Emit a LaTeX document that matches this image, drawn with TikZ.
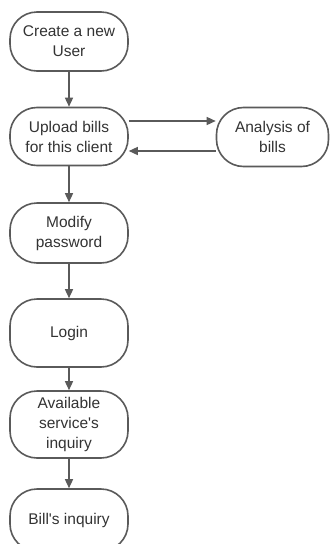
\documentclass[tikz,border=0pt]{standalone}
\usepackage{fontspec}
\setmainfont{Liberation Sans}
\usetikzlibrary{arrows.meta,positioning}
\definecolor{linegray}{HTML}{5A5A5A}
\definecolor{textgray}{HTML}{333333}
\begin{document}
\begin{tikzpicture}[x=1pt,y=-1pt,
  flowbox/.style={draw=linegray, line width=1.6pt, rounded corners=27pt,
    minimum width=118pt, inner sep=0pt, align=center, text=textgray,
    font=\fontsize{15.5}{20}\selectfont, fill=white},
  arr/.style={draw=linegray, line width=1.4pt, -{Triangle[length=9pt,width=8pt]}}]
\useasboundingbox[fill=white] (0,0) rectangle (330,544);
\node[flowbox, minimum height=59pt] (n1) at (69,41.5) {Create a new\\User};
\node[flowbox, minimum height=58pt] (n2) at (69,136.5) {Upload bills\\for this client};
\node[flowbox, minimum height=59pt, minimum width=112pt] (an) at (272.5,137) {Analysis of\\bills};
\node[flowbox, minimum height=60pt] (n3) at (69,233) {Modify\\password};
\node[flowbox, minimum height=68pt] (n4) at (69,333) {Login};
\node[flowbox, minimum height=67pt] (n5) at (69,424.5) {Available\\service\textquotesingle s\\inquiry};
\node[flowbox, minimum height=62pt] (n6) at (69,520) {Bill\textquotesingle s inquiry};
\draw[arr] (n1) -- (n2);
\draw[arr] ([yshift=15.5pt]n2.east) -- ([yshift=16pt]an.west);
\draw[arr] ([yshift=-14pt]an.west) -- ([yshift=-14.5pt]n2.east);
\draw[arr] (n2) -- (n3);
\draw[arr] (n3) -- (n4);
\draw[arr] (n4) -- (n5);
\draw[arr] (n5) -- (n6);
\end{tikzpicture}
\end{document}
